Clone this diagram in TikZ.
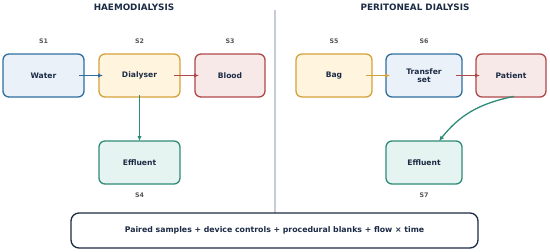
\documentclass[tikz,border=0pt]{standalone}
\usepackage{fontspec}
\setmainfont{DejaVu Sans}
\usetikzlibrary{arrows.meta,positioning}

\definecolor{navy}{HTML}{1C2B45}
\definecolor{blueline}{HTML}{2F6E9E}
\definecolor{bluefill}{HTML}{EAF1F8}
\definecolor{amberline}{HTML}{D4A23A}
\definecolor{amberfill}{HTML}{FFF4DE}
\definecolor{redline}{HTML}{B04848}
\definecolor{redfill}{HTML}{F8E9E9}
\definecolor{tealline}{HTML}{2E8B78}
\definecolor{tealfill}{HTML}{E6F4F1}
\definecolor{slabelgray}{HTML}{555555}
\definecolor{divgray}{HTML}{C8CDD3}

\begin{document}
\begin{tikzpicture}[
  x=1pt, y=1pt,
  node distance=44pt and 15pt,
  stage/.style={draw, rounded corners=6pt, line width=1.3pt, align=center, minimum height=43pt, minimum width=81pt, inner sep=0pt, outer sep=0pt, text=navy, font=\bfseries\fontsize{7.6}{8.2}\selectfont},
  bluebox/.style={stage, draw=blueline, fill=bluefill},
  amberbox/.style={stage, draw=amberline, fill=amberfill},
  redbox/.style={stage, draw=redline, fill=redfill},
  tealbox/.style={stage, draw=tealline, fill=tealfill},
  slabel/.style={text=slabelgray, font=\bfseries\fontsize{6.3}{7}\selectfont},
  title/.style={text=navy, font=\bfseries\fontsize{8.8}{10}\selectfont},
  arrow/.style={-{Latex[length=5pt,width=4.5pt]}, line width=1.3pt}
]
\useasboundingbox (0,0) rectangle (550,-252);

% divider between the two modalities
\draw[divgray, line width=1.1pt] (275,-10) -- (275,-214);

% haemodialysis
\node[title] (hdtitle) at (134,-7) {HAEMODIALYSIS};
\node[bluebox] (water) at (43.5,-75.5) {Water};
\node[amberbox, right=of water] (dialyser) {Dialyser};
\node[redbox, right=of dialyser, minimum width=70pt] (blood) {Blood};
\node[tealbox, below=of dialyser] (effluentH) {Effluent};

% peritoneal dialysis
\node[title] (pdtitle) at (415,-7) {PERITONEAL DIALYSIS};
\node[amberbox, minimum width=76pt] (bag) at (334,-75.5) {Bag};
\node[bluebox, right=14pt of bag, minimum width=76pt] (transfer) {Transfer\\set};
\node[redbox, right=14pt of transfer, minimum width=70pt] (patient) {Patient};
\node[tealbox, below=of transfer, minimum width=76pt] (effluentP) {Effluent};

% sample labels
\node[slabel, above=7pt of water] (s1) {S1};
\node[slabel, above=7pt of dialyser] (s2) {S2};
\node[slabel, above=7pt of blood] (s3) {S3};
\node[slabel, below=5pt of effluentH] (s4) {S4};
\node[slabel, above=7pt of bag] (s5) {S5};
\node[slabel, above=7pt of transfer] (s6) {S6};
\node[slabel, below=5pt of effluentP] (s7) {S7};

% flows
\draw[arrow, blueline, shorten <=-5pt, shorten >=-4pt] (water) -- (dialyser);
\draw[arrow, redline, shorten <=-6pt, shorten >=-4pt] (dialyser) -- (blood);
\draw[arrow, tealline, shorten <=-2pt] (dialyser) -- (effluentH);
\draw[arrow, amberline, shorten <=-6pt, shorten >=-4pt] (bag) -- (transfer);
\draw[arrow, redline, shorten <=-6pt, shorten >=-4pt] (transfer) -- (patient);
\draw[arrow, tealline, shorten <=-3pt] (patient.south) to[bend right=20] (effluentP.55);

% common protocol
\node[draw=navy, fill=white, line width=1.3pt, rounded corners=8pt, minimum width=407pt, minimum height=35pt, inner sep=0pt, text=navy, font=\bfseries\fontsize{7.8}{8.4}\selectfont] (protocol) at (274.5,-230.5) {Paired samples + device controls + procedural blanks + flow × time};
\end{tikzpicture}
\end{document}
